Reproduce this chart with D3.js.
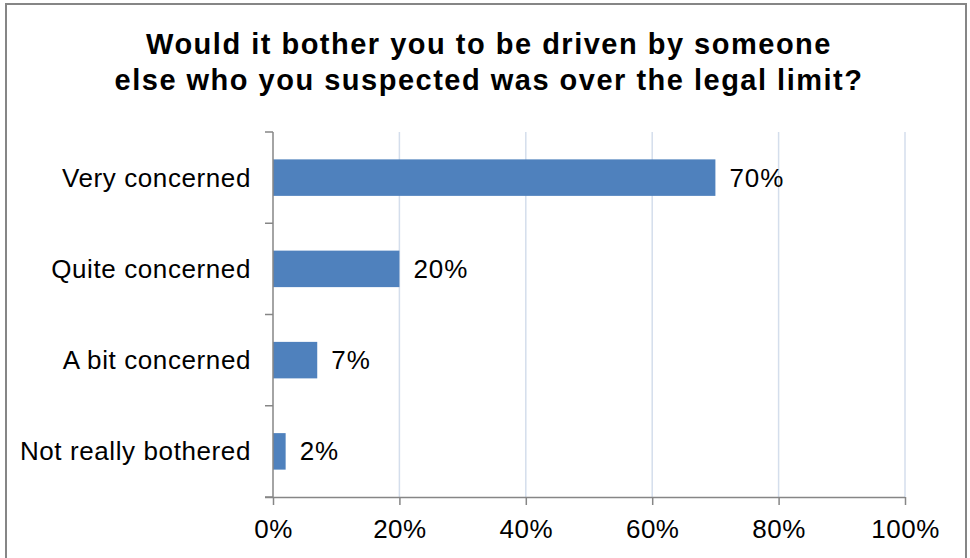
<!DOCTYPE html>
<html><head><meta charset="utf-8">
<script src="https://cdn.jsdelivr.net/npm/d3@7"></script>
<style>
body{margin:0;background:#fff;}
text{font-family:"Liberation Sans",Arial,sans-serif;}
</style></head>
<body><svg id="c" width="970" height="558"></svg>
<script>
const titleLines = ["Would it bother you to be driven by someone", "else who you suspected was over the legal limit?"];
const categories = ["Very concerned", "Quite concerned", "A bit concerned", "Not really bothered"];
const values = [70, 20, 7, 2];
const tickValues = [0, 20, 40, 60, 80, 100];

const svg = d3.select("#c");
svg.append("rect").attr("x", 6).attr("y", 4).attr("width", 960).attr("height", 600)
  .attr("fill", "#fff").attr("stroke", "#868686").attr("stroke-width", 2);

const pLeft = 273, pRight = 905, pTop = 132, pBottom = 497;
const x = d3.scaleLinear().domain([0, 100]).range([pLeft, pRight]);
const y = d3.scaleBand().domain(categories).range([pTop, pBottom]).paddingInner(0.6).paddingOuter(0.3);
const yb = d3.scaleBand().domain(categories).range([pTop, pBottom]);

// title
svg.append("g").selectAll("text").data(titleLines).join("text")
  .attr("x", 489).attr("y", (d, i) => 54 + i * 36)
  .attr("text-anchor", "middle").attr("font-size", 29).attr("font-weight", "bold")
  .attr("letter-spacing", 1.5).attr("fill", "#000").text(d => d);

// gridlines
svg.append("g").selectAll("line").data(tickValues.filter(v => v > 0)).join("line")
  .attr("x1", d => x(d)).attr("x2", d => x(d)).attr("y1", pTop).attr("y2", pBottom)
  .attr("stroke", "#D4DEEC").attr("stroke-width", 1.5);

// bars
svg.append("g").selectAll("rect").data(values).join("rect")
  .attr("x", x(0)).attr("y", (d, i) => y(categories[i]))
  .attr("width", d => x(d) - x(0)).attr("height", y.bandwidth())
  .attr("fill", "#4F81BD");

// data labels
svg.append("g").selectAll("text").data(values).join("text")
  .attr("x", d => x(d) + 14).attr("y", (d, i) => y(categories[i]) + y.bandwidth() / 2 + 9)
  .attr("font-size", 26).attr("letter-spacing", 1).attr("fill", "#000").text(d => d + "%");

// x axis
const xAxis = svg.append("g").attr("transform", `translate(0,${pBottom})`)
  .call(d3.axisBottom(x).tickValues(tickValues).tickFormat(d => d + "%").tickSize(8).tickPadding(15).tickSizeOuter(0));
xAxis.select(".domain").attr("stroke", "#868686").attr("stroke-width", 1.5).attr("d", `M${pLeft - 8},0.5H${pRight}`);
xAxis.selectAll(".tick line").attr("stroke", "#868686").attr("stroke-width", 1.5);
xAxis.selectAll(".tick text").attr("font-size", 26).attr("letter-spacing", 0.5).attr("fill", "#000")
  .attr("font-family", "Liberation Sans, Arial, sans-serif");

// y axis (category boundaries ticks)
const yAxisG = svg.append("g");
yAxisG.append("line").attr("x1", pLeft).attr("x2", pLeft).attr("y1", pTop).attr("y2", pBottom)
  .attr("stroke", "#868686").attr("stroke-width", 1.5);
const bounds = categories.map(c => yb(c)).concat([pBottom]);
yAxisG.selectAll("line.t").data(bounds).join("line").attr("class", "t")
  .attr("x1", pLeft - 8).attr("x2", pLeft).attr("y1", d => d).attr("y2", d => d)
  .attr("stroke", "#868686").attr("stroke-width", 1.5);
yAxisG.selectAll("text").data(categories).join("text")
  .attr("x", 251).attr("y", d => yb(d) + yb.bandwidth() / 2 + 9)
  .attr("text-anchor", "end").attr("font-size", 26).attr("letter-spacing", 0.6).attr("fill", "#000").text(d => d);
</script></body></html>
